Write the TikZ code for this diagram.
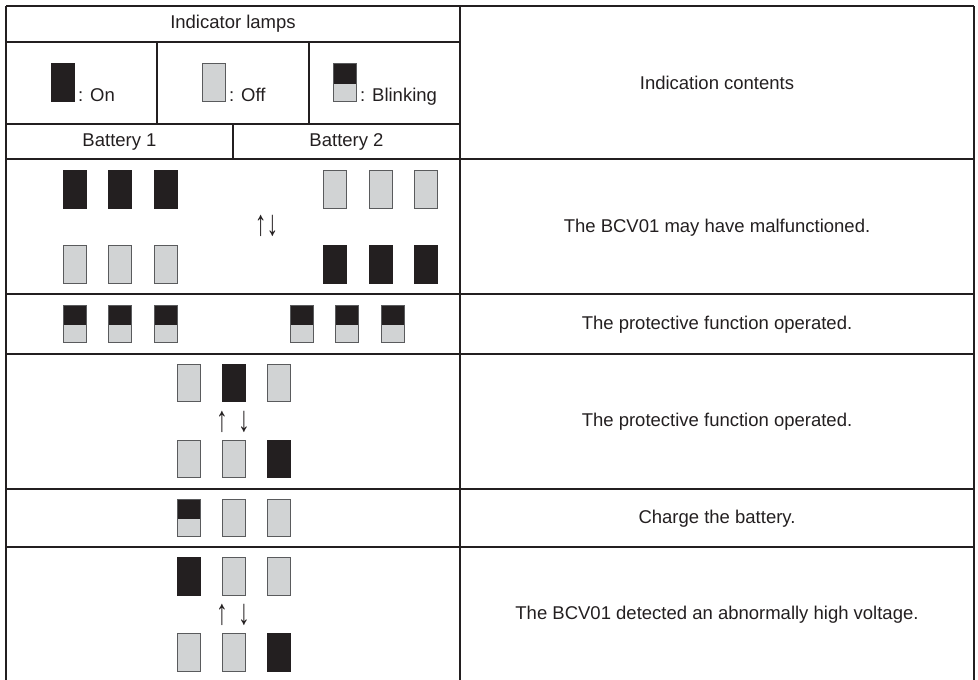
\documentclass[tikz,border=0pt]{standalone}
\usepackage{fontspec}
\setmainfont{Liberation Sans}
\definecolor{ink}{HTML}{231F20}
\definecolor{lampgray}{HTML}{D1D3D4}
\definecolor{lampedge}{HTML}{5A5B5D}
\newcommand{\updown}[1]{\scalebox{1.3}[2.0]{#1}}
\begin{document}
\begin{tikzpicture}[x=1pt,y=-1pt,
  grid/.style={draw=ink,line width=1.8pt},
  lamp/.style={minimum width=23pt,minimum height=37.5pt,inner sep=0pt,outer sep=0pt},
  lampon/.style={lamp,fill=ink,draw=ink,line width=0.6pt},
  lampoff/.style={lamp,fill=lampgray,draw=lampedge,line width=1pt},
  lampblink/.style={lamp,fill=lampgray,draw=lampedge,line width=1pt,
    path picture={\fill[ink] (path picture bounding box.north west) rectangle ([yshift=-20pt]path picture bounding box.north east);}},
  txt/.style={font=\fontsize{18.5}{21}\selectfont,text=ink,inner sep=0pt},
  arr/.style={font=\fontsize{18}{21}\selectfont,text=ink,inner sep=0pt}]
\useasboundingbox (0,0) rectangle (978,680);
% grid
\draw[grid] (6,6) -- (974,6);
\draw[grid] (6,42) -- (460,42);
\draw[grid] (6,124) -- (460,124);
\draw[grid] (6,159) -- (974,159);
\draw[grid] (6,294) -- (974,294);
\draw[grid] (6,354) -- (974,354);
\draw[grid] (6,489) -- (974,489);
\draw[grid] (6,547) -- (974,547);
\draw[grid] (6,6) -- (6,682);
\draw[grid] (460,6) -- (460,682);
\draw[grid] (974,6) -- (974,682);
\draw[grid] (157,42) -- (157,124);
\draw[grid] (309,42) -- (309,124);
\draw[grid] (233,124) -- (233,159);
% header
\node[txt] (hlamps) at (233,24) {Indicator lamps};
\node[txt] (hcont) at (717,83) {Indication contents};
\node[lampon] (lgon) at (62.5,82.5) {};
\node[txt,anchor=base west] (lgontxt) at (78,101) {: On};
\node[lampoff] (lgoff) at (213.5,82.5) {};
\node[txt,anchor=base west] (lgofftxt) at (229,101) {: Off};
\node[lampblink] (lgbl) at (344.5,82.5) {};
\node[txt,anchor=base west] (lgbltxt) at (360,101) {: Blinking};
\node[txt] (bat1) at (119.5,142) {Battery 1};
\node[txt] (bat2) at (346.5,142) {Battery 2};
% row 1
\node[lampon] (a1) at (74.5,189.5) {};
\node[lampon] (a2) at (120,189.5) {};
\node[lampon] (a3) at (165.5,189.5) {};
\node[lampoff] (a4) at (334.5,189.5) {};
\node[lampoff] (a5) at (380.5,189.5) {};
\node[lampoff] (a6) at (425.5,189.5) {};
\node[arr] (arA) at (266.5,226) {\updown{↑↓}};
\node[lampoff] (b1) at (74.5,264.5) {};
\node[lampoff] (b2) at (120,264.5) {};
\node[lampoff] (b3) at (165.5,264.5) {};
\node[lampon] (b4) at (334.5,264.5) {};
\node[lampon] (b5) at (380.5,264.5) {};
\node[lampon] (b6) at (425.5,264.5) {};
\node[txt] (t1) at (717,228) {The BCV01 may have malfunctioned.};
% row 2
\node[lampblink] (c1) at (74.5,324) {};
\node[lampblink] (c2) at (120,324) {};
\node[lampblink] (c3) at (165.5,324) {};
\node[lampblink] (c4) at (301.5,324) {};
\node[lampblink] (c5) at (346.5,324) {};
\node[lampblink] (c6) at (392.5,324) {};
\node[txt] (t2) at (717,325) {The protective function operated.};
% row 3
\node[lampoff] (d1) at (188.5,383) {};
\node[lampon] (d2) at (233.5,383) {};
\node[lampoff] (d3) at (278.5,383) {};
\node[arr] (arB) at (233,422) {\updown{↑\hspace{0.45em}↓}};
\node[lampoff] (e1) at (188.5,459) {};
\node[lampoff] (e2) at (233.5,459) {};
\node[lampon] (e3) at (278.5,459) {};
\node[txt] (t3) at (717,422) {The protective function operated.};
% row 4
\node[lampblink] (f1) at (188.5,518) {};
\node[lampoff] (f2) at (233.5,518) {};
\node[lampoff] (f3) at (278.5,518) {};
\node[txt] (t4) at (717,519) {Charge the battery.};
% row 5
\node[lampon] (g1) at (188.5,576.5) {};
\node[lampoff] (g2) at (233.5,576.5) {};
\node[lampoff] (g3) at (278.5,576.5) {};
\node[arr] (arC) at (233,615) {\updown{↑\hspace{0.45em}↓}};
\node[lampoff] (h1) at (188.5,652.5) {};
\node[lampoff] (h2) at (233.5,652.5) {};
\node[lampon] (h3) at (278.5,652.5) {};
\node[txt] (t5) at (717,615) {The BCV01 detected an abnormally high voltage.};
\end{tikzpicture}
\end{document}
